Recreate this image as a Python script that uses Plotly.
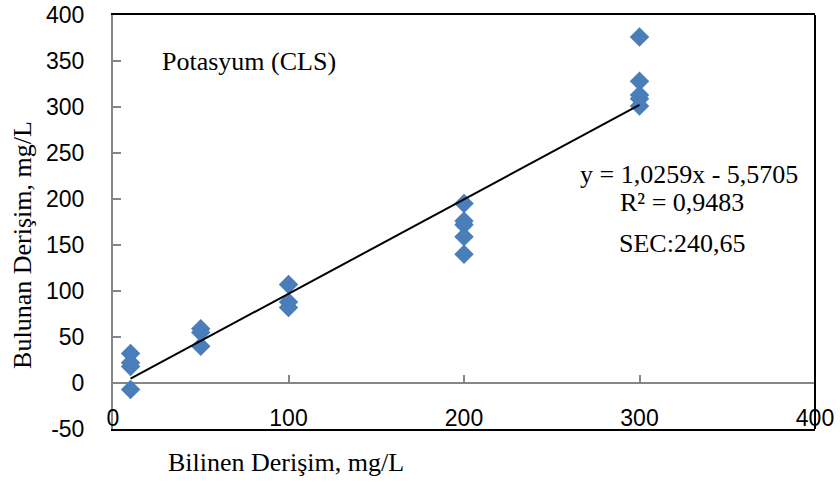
import plotly.graph_objects as go

# Known (reference) concentrations and measured values, mg/L
known_10 = [10, 10, 10, 10]
found_10 = [32, 22, 18, -7]
known_50 = [50, 50, 50]
found_50 = [59, 55, 40]
known_100 = [100, 100, 100]
found_100 = [107, 88, 82]
known_200 = [200, 200, 200, 200, 200]
found_200 = [195, 176, 172, 159, 140]
known_300 = [300, 300, 300, 300, 300]
found_300 = [376, 328, 313, 309, 301]

# Linear trendline reported on the chart
slope = 1.0259
intercept = -5.5705
fit_x = [10, 300]

x_ticks = [0, 100, 200, 300, 400]
y_ticks = [-50, 0, 50, 100, 150, 200, 250, 300, 350, 400]

x_all = known_10 + known_50 + known_100 + known_200 + known_300
y_all = found_10 + found_50 + found_100 + found_200 + found_300
fit_y = [slope * v + intercept for v in fit_x]

SERIF = "Liberation Serif"
SANS = "Liberation Sans"
BLUE = "#4A7EBB"
GRAY = "#868686"

fig = go.Figure()

fig.add_trace(go.Scatter(
    x=x_all, y=y_all, mode="markers",
    marker=dict(symbol="diamond", size=15, color=BLUE, line=dict(width=0)),
    showlegend=False, hoverinfo="x+y",
))

fig.add_trace(go.Scatter(
    x=fit_x, y=fit_y, mode="lines",
    line=dict(color="black", width=2),
    showlegend=False, hoverinfo="skip",
))

y_min, y_max = y_ticks[0], y_ticks[-1]

fig.update_layout(
    width=840, height=482,
    margin=dict(l=113, r=25, t=15, b=53),
    paper_bgcolor="white", plot_bgcolor="white",
    xaxis=dict(
        range=[x_ticks[0], x_ticks[-1]], tickvals=x_ticks,
        ticktext=[str(v) for v in x_ticks],
        showgrid=False, zeroline=False, automargin=False,
        showline=True, linecolor="black", linewidth=2, mirror=True,
        ticks="", ticklabelposition="inside", ticklabeloverflow="allow",
        tickfont=dict(family=SANS, size=23, color="black"),
    ),
    # horizontal axis through y = 0 carrying the tick marks
    xaxis2=dict(
        range=[x_ticks[0], x_ticks[-1]], tickvals=x_ticks,
        overlaying="x", anchor="free", automargin=False,
        position=(0 - y_min) / (y_max - y_min),
        showgrid=False, zeroline=False, showline=False,
        ticks="inside", ticklen=8, tickwidth=2, tickcolor=GRAY,
        showticklabels=False,
    ),
    yaxis=dict(
        range=[y_min, y_max], tickvals=y_ticks,
        ticktext=[str(v) for v in y_ticks],
        showgrid=False, automargin=False,
        zeroline=True, zerolinecolor=GRAY, zerolinewidth=2,
        showline=True, linecolor=GRAY, linewidth=2,
        ticks="inside", ticklen=8, tickwidth=2, tickcolor=GRAY,
        ticklabelstandoff=22,
        tickfont=dict(family=SANS, size=23, color="black"),
    ),
    shapes=[dict(type="line", xref="paper", yref="paper",
                 x0=1, x1=1, y0=0, y1=1,
                 line=dict(color="black", width=2))],
)

# empty trace so the overlaying axis is rendered
fig.add_trace(go.Scatter(x=[None], y=[None], xaxis="x2", showlegend=False,
                         hoverinfo="skip"))

fig.add_annotation(text="Potasyum (CLS)", x=27, y=349, xref="x", yref="y",
                   xanchor="left", yanchor="middle", showarrow=False,
                   font=dict(family=SERIF, size=26, color="black"))
fig.add_annotation(text="y = 1,0259x - 5,5705", x=265, y=227, xref="x", yref="y",
                   xanchor="left", yanchor="middle", showarrow=False,
                   font=dict(family=SERIF, size=26, color="black"))
fig.add_annotation(text="R² = 0,9483", x=288, y=196, xref="x", yref="y",
                   xanchor="left", yanchor="middle", showarrow=False,
                   font=dict(family=SERIF, size=26, color="black"))
fig.add_annotation(text="SEC:240,65", x=287, y=152, xref="x", yref="y",
                   xanchor="left", yanchor="middle", showarrow=False,
                   font=dict(family=SERIF, size=26, color="black"))

fig.add_annotation(text="Bulunan Derişim, mg/L", x=-0.13, y=0.444,
                   xref="paper", yref="paper", textangle=-90,
                   xanchor="center", yanchor="middle", showarrow=False,
                   font=dict(family=SERIF, size=26, color="black"))
fig.add_annotation(text="Bilinen Derişim, mg/L", x=0.246, y=-0.082,
                   xref="paper", yref="paper",
                   xanchor="center", yanchor="middle", showarrow=False,
                   font=dict(family=SERIF, size=26, color="black"))

fig.write_html("out.html")
